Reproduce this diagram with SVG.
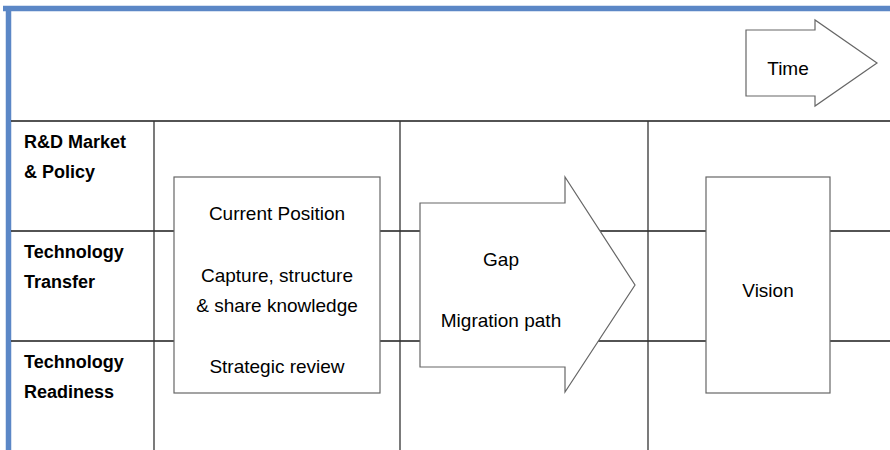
<svg xmlns="http://www.w3.org/2000/svg" width="890" height="450" viewBox="0 0 890 450">
  <style>
    .grid { stroke: #1a1a1a; stroke-width: 1.6; fill: none; }
    .vgrid { stroke: #333; stroke-width: 1.3; fill: none; }
    .shape { fill: #fff; stroke: #666; stroke-width: 1.2; }
    .lbl { font-family: "Liberation Sans", Arial, sans-serif; font-size: 18px; font-weight: bold; fill: #000; }
    .txt { font-family: "Liberation Sans", Arial, sans-serif; font-size: 19px; fill: #000; text-anchor: middle; }
  </style>
  <rect width="890" height="450" fill="#fff"/>

  <!-- frame -->
  <g id="frame">
    <line x1="3" y1="8.5" x2="890" y2="8.5" stroke="#5b87c6" stroke-width="5.5"/>
    <line x1="8.5" y1="6" x2="8.5" y2="450" stroke="#5b87c6" stroke-width="5.5"/>
  </g>

  <!-- grid lines -->
  <g id="connectors">
    <line class="grid" x1="11" y1="121" x2="890" y2="121"/>
    <line class="grid" x1="11" y1="231" x2="890" y2="231"/>
    <line class="grid" x1="11" y1="341" x2="890" y2="341"/>
    <line class="vgrid" x1="154" y1="121" x2="154" y2="450"/>
    <line class="vgrid" x1="400" y1="121" x2="400" y2="450"/>
    <line class="vgrid" x1="648" y1="121" x2="648" y2="450"/>
  </g>

  <!-- row labels -->
  <g id="row-rd">
    <text class="lbl" x="24" y="148">R&amp;D Market</text>
    <text class="lbl" x="24" y="178">&amp; Policy</text>
  </g>
  <g id="row-transfer">
    <text class="lbl" x="24" y="258">Technology</text>
    <text class="lbl" x="24" y="288">Transfer</text>
  </g>
  <g id="row-readiness">
    <text class="lbl" x="24" y="368">Technology</text>
    <text class="lbl" x="24" y="398">Readiness</text>
  </g>

  <!-- time arrow -->
  <g id="time">
    <polygon class="shape" points="746,30 815,30 815,20 877,63 815,106 815,96 746,96"/>
    <text class="txt" x="788" y="75">Time</text>
  </g>

  <!-- current position -->
  <g id="current-position">
    <rect class="shape" x="174" y="177" width="206" height="216"/>
    <text class="txt" x="277" y="220">Current Position</text>
    <text class="txt" x="277" y="282">Capture, structure</text>
    <text class="txt" x="277" y="312">&amp; share knowledge</text>
    <text class="txt" x="277" y="373">Strategic review</text>
  </g>

  <!-- gap / migration arrow -->
  <g id="gap">
    <polygon class="shape" points="420,203 565,203 565,177 635,285 565,392 565,367 420,367"/>
    <text class="txt" x="501" y="266">Gap</text>
    <text class="txt" x="501" y="327">Migration path</text>
  </g>

  <!-- vision -->
  <g id="vision">
    <rect class="shape" x="706" y="177" width="124" height="216"/>
    <text class="txt" x="768" y="297">Vision</text>
  </g>
</svg>
